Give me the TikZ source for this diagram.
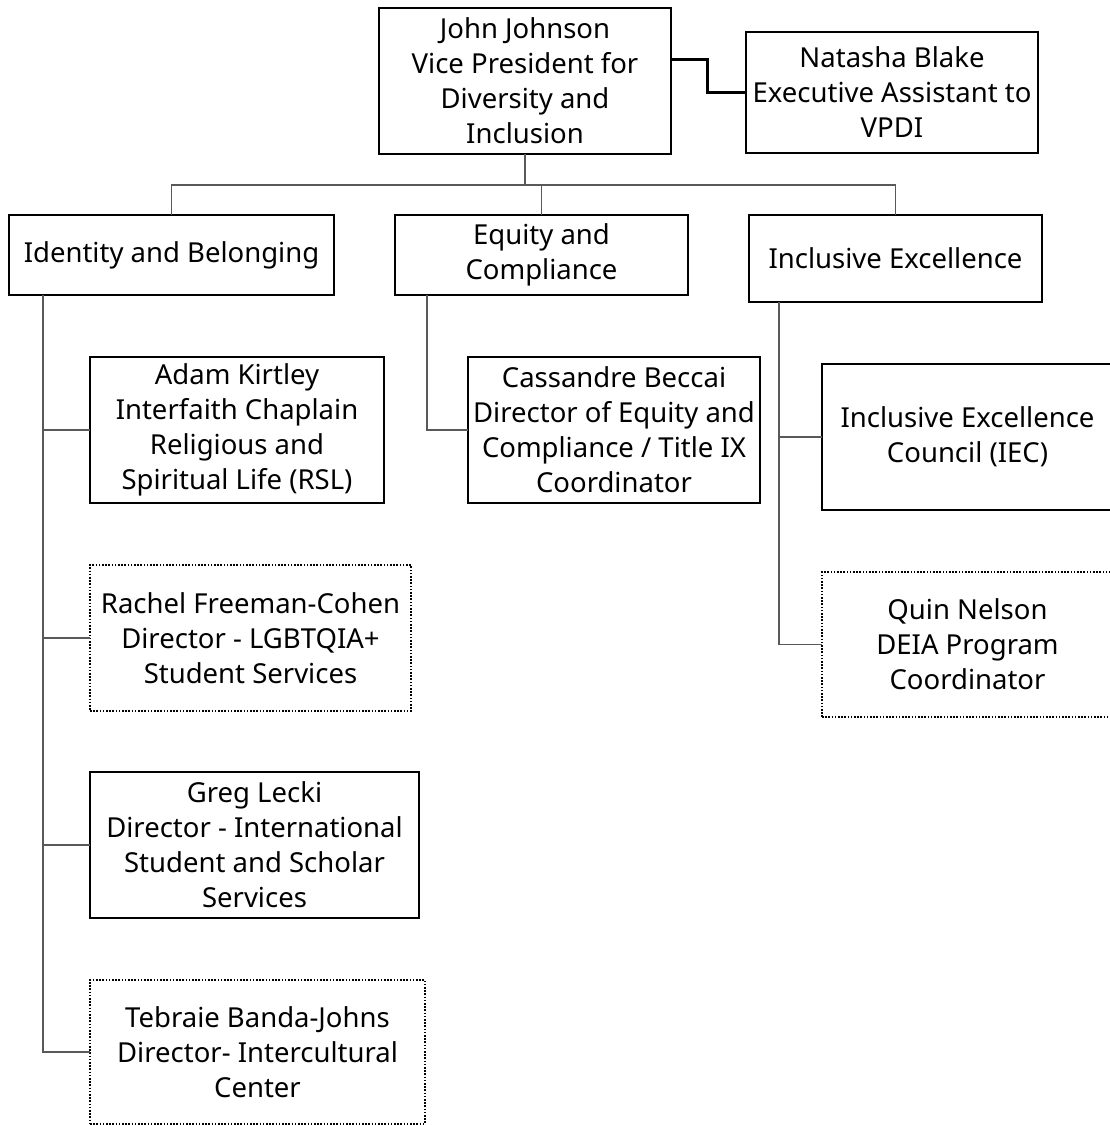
\documentclass[tikz,border=0pt]{standalone}
\usepackage{fontspec}
\setmainfont{Noto Sans}
\begin{document}
\begin{tikzpicture}[x=1pt,y=-1pt,
  box/.style={draw=black, line width=2pt, anchor=north west, align=center, inner sep=0pt, outer sep=0pt,
    font=\fontsize{27.5}{35}\selectfont, text=black},
  dotbox/.style={box, line width=1.6pt, dash pattern=on 1.6pt off 1.6pt},
  conn/.style={draw=black!65, line width=1.3pt},
  asst/.style={draw=black, line width=3pt},
]
\clip (0,0) rectangle (1110,1125);
\fill[white] (0,0) rectangle (1110,1125);
% nodes
\node[box, minimum width=292pt, minimum height=146pt] (jj) at (379,8)
  {John Johnson\\Vice President for\\Diversity and\\Inclusion};
\node[box, minimum width=292pt, minimum height=121pt] (nb) at (746,32)
  {Natasha Blake\\Executive Assistant to\\VPDI};
\node[box, minimum width=325pt, minimum height=80pt] (ib) at (9,215)
  {Identity and Belonging};
\node[box, minimum width=293pt, minimum height=80pt] (ec) at (395,215)
  {Equity and\\Compliance};
\node[box, minimum width=293pt, minimum height=87pt] (ie) at (749,215)
  {Inclusive Excellence};
\node[box, minimum width=294pt, minimum height=146pt] (ak) at (90,357)
  {Adam Kirtley\\Interfaith Chaplain\\Religious and\\Spiritual Life (RSL)};
\node[dotbox, minimum width=321pt, minimum height=146pt] (rf) at (90,565)
  {Rachel Freeman-Cohen\\Director - LGBTQIA+\\Student Services};
\node[box, minimum width=329pt, minimum height=146pt] (gl) at (90,772)
  {Greg Lecki\\Director - International\\Student and Scholar\\Services};
\node[dotbox, minimum width=335pt, minimum height=144pt] (tb) at (90,980)
  {Tebraie Banda-Johns\\Director- Intercultural\\Center};
\node[box, minimum width=292pt, minimum height=146pt] (cb) at (468,357)
  {Cassandre Beccai\\Director of Equity and\\Compliance / Title IX\\Coordinator};
\node[box, minimum width=291pt, minimum height=146pt] (iec) at (822,364)
  {Inclusive Excellence\\Council (IEC)};
\node[dotbox, minimum width=291pt, minimum height=145pt] (qn) at (822,572)
  {Quin Nelson\\DEIA Program\\Coordinator};
% connectors
\coordinate (bus) at (0,185);
\draw[conn] (jj.south) -- (jj.south |- bus);
\draw[conn] (ib.north) -- (ib.north |- bus) -- (ie.north |- bus) -- (ie.north);
\draw[conn] (ec.north) -- (ec.north |- bus);
\draw[asst] ([yshift=-51pt]jj.north east) -- ++(36,0) |- (nb.west);
% left spine
\coordinate (ls) at ([xshift=34pt]ib.south west);
\draw[conn] (ls) |- (tb.west);
\draw[conn] (ak.west) -- (ak.west -| ls);
\draw[conn] (rf.west) -- (rf.west -| ls);
\draw[conn] (gl.west) -- (gl.west -| ls);
% middle
\coordinate (ms) at ([xshift=32pt]ec.south west);
\draw[conn] (ms) |- (cb.west);
% right
\coordinate (rs) at ([xshift=30pt]ie.south west);
\draw[conn] (rs) |- (qn.west);
\draw[conn] (iec.west) -- (iec.west -| rs);
\end{tikzpicture}
\end{document}
